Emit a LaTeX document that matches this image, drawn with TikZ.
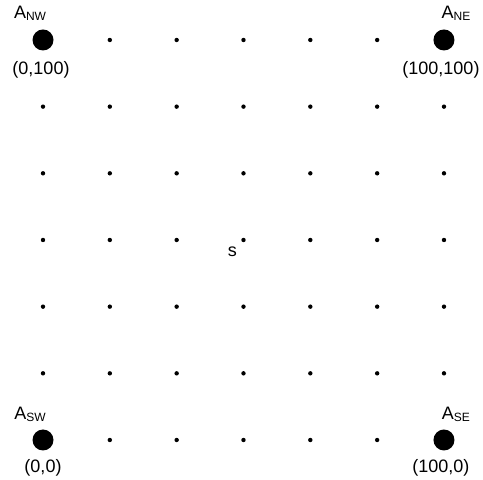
\documentclass[tikz,border=0pt]{standalone}
\usepackage{fontspec}
\setmainfont{Liberation Sans}
\begin{document}
\begin{tikzpicture}[x=1pt,y=1pt,
  smalldot/.style={circle,fill=black,inner sep=0pt,minimum size=4.4pt},
  bigdot/.style={circle,fill=black,inner sep=0pt,minimum size=21pt},
  lbl/.style={anchor=base,inner sep=0pt,font=\fontsize{18}{20}\selectfont}]
\useasboundingbox (0,0) rectangle (483,480);
\newcommand{\sbs}[1]{\raisebox{-2pt}{\fontsize{12}{13}\selectfont #1}}
\foreach \i in {0,...,6}{
  \foreach \j in {0,...,6}{
    \node[smalldot] (d\i\j) at ({43+66.83*\i},{40+66.67*\j}) {};
  }
}
\node[bigdot] (sw) at (d00) {};
\node[bigdot] (se) at (d60) {};
\node[bigdot] (nw) at (d06) {};
\node[bigdot] (ne) at (d66) {};
\node[lbl] (lnw) at ([shift={(-13,21)}]nw.center) {A\sbs{NW}};
\node[lbl] (lne) at ([shift={(12,21)}]ne.center) {A\sbs{NE}};
\node[lbl] (lsw) at ([shift={(-13,20)}]sw.center) {A\sbs{SW}};
\node[lbl] (lse) at ([shift={(12,20)}]se.center) {A\sbs{SE}};
\node[lbl] (cnw) at ([shift={(-2,-35)}]nw.center) {(0,100)};
\node[lbl] (cne) at ([shift={(-3,-35)}]ne.center) {(100,100)};
\node[lbl] (csw) at ([shift={(0,-33)}]sw.center) {(0,0)};
\node[lbl] (cse) at ([shift={(-3,-33)}]se.center) {(100,0)};
\node[lbl] (s) at ([shift={(-11,-17)}]d33.center) {s};
\end{tikzpicture}
\end{document}
